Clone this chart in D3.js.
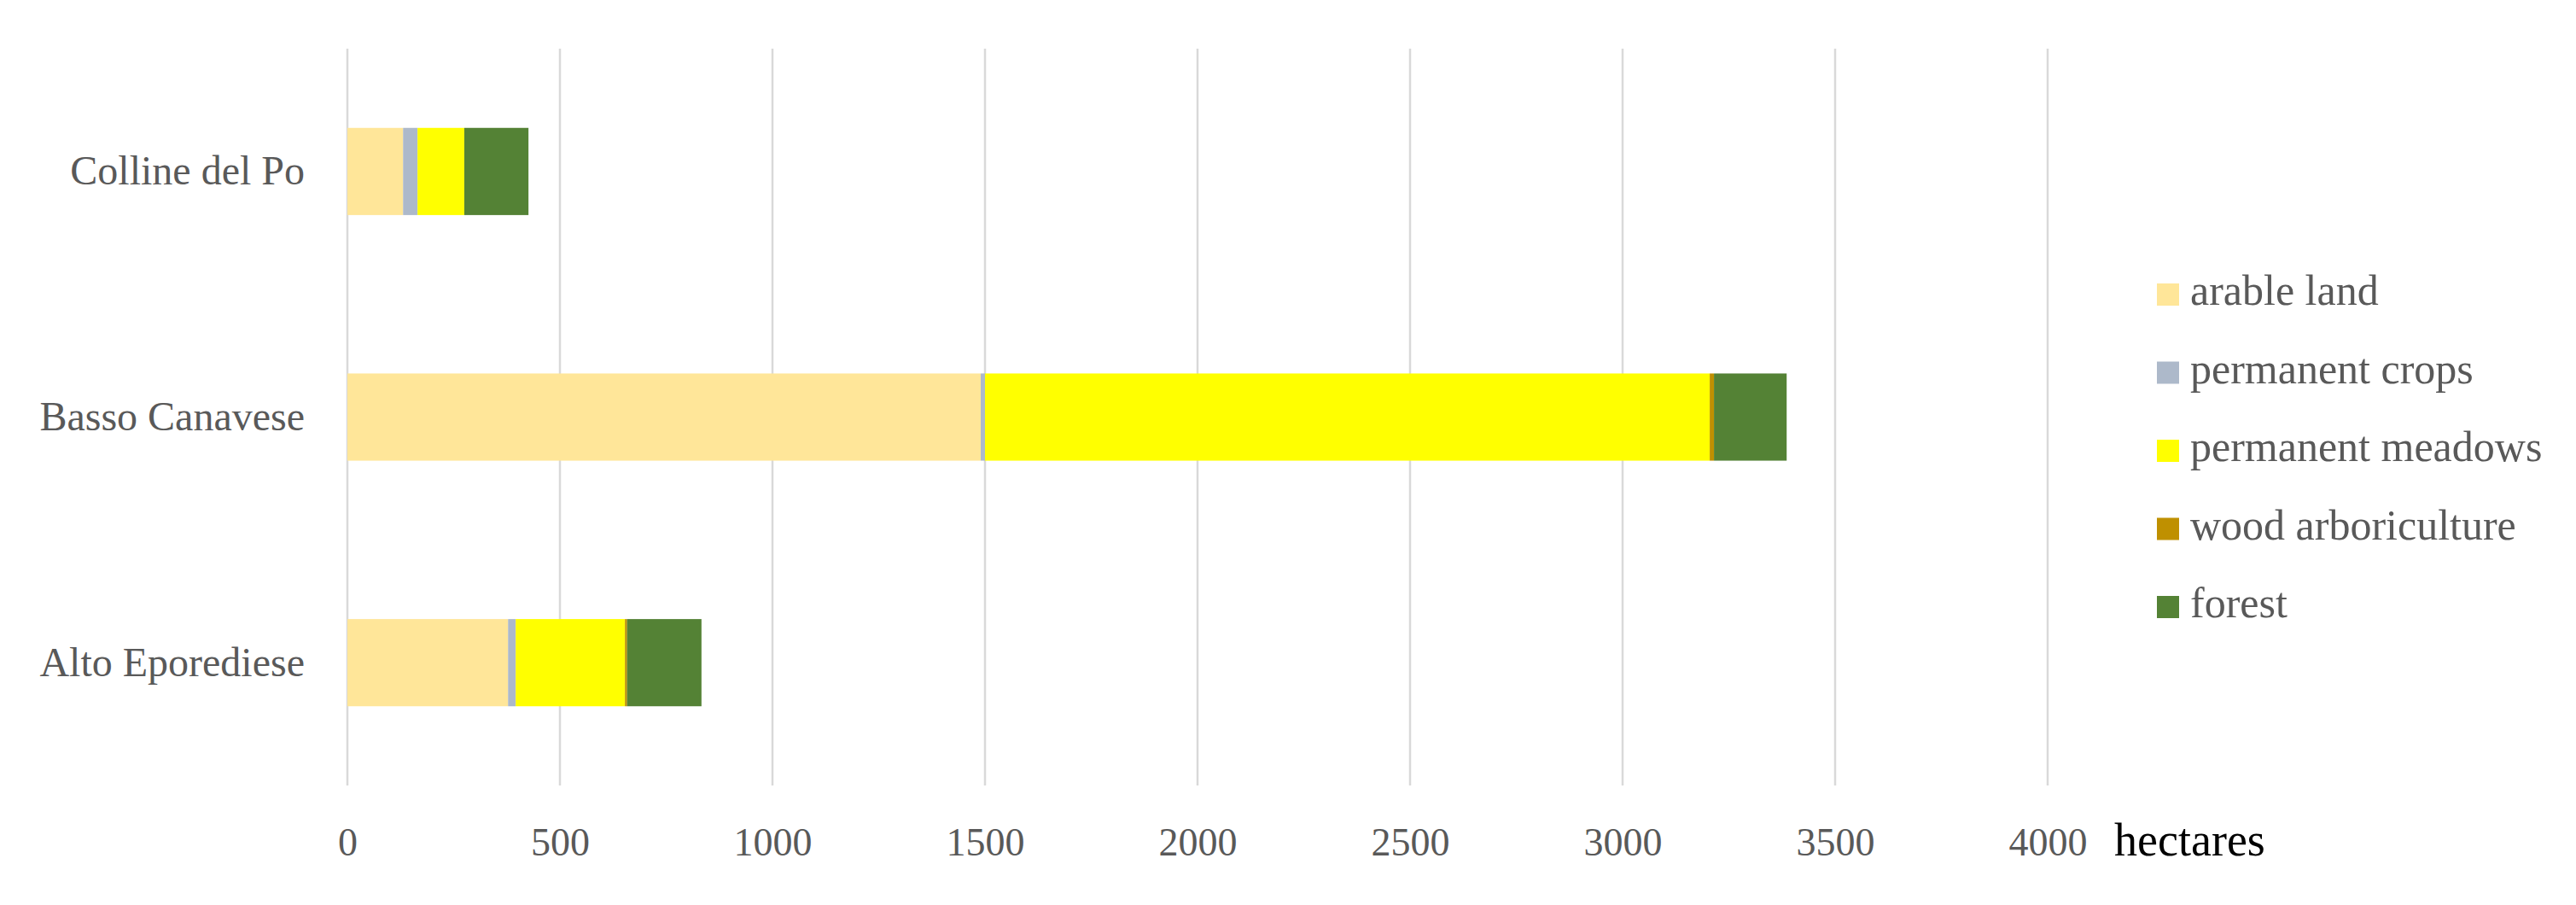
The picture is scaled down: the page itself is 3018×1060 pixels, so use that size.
<!DOCTYPE html>
<html>
<head>
<meta charset="utf-8">
<script src="https://cdn.jsdelivr.net/npm/d3@7"></script>
<style>
  html, body { margin: 0; padding: 0; background: #ffffff; }
  svg { display: block; }
</style>
</head>
<body>
<svg id="chart" width="3018" height="1060"></svg>
<script>
// ---- data ----
const categories = ["Colline del Po", "Basso Canavese", "Alto Eporediese"];
const seriesNames = ["arable land", "permanent crops", "permanent meadows", "wood arboriculture", "forest"];
const arableLand = [131, 1490, 378];
const permanentCrops = [34, 10, 18];
const permanentMeadows = [110, 1705, 257];
const woodArboriculture = [0, 10, 5];
const forest = [151, 171, 175];
const seriesColors = ["#FFE699", "#ADB9CA", "#FFFF00", "#BF9000", "#548235"];
const tickValues = [0, 500, 1000, 1500, 2000, 2500, 3000, 3500, 4000];
const axisTitle = "hectares";

// ---- build table ----
const seriesValues = [arableLand, permanentCrops, permanentMeadows, woodArboriculture, forest];
const rows = categories.map((c, i) => {
  const r = { category: c };
  seriesNames.forEach((s, j) => { r[s] = seriesValues[j][i]; });
  return r;
});

const svg = d3.select("#chart");
const x = d3.scaleLinear().domain([0, 4000]).range([407, 2399]);
const y = d3.scaleBand().domain(categories).range([57, 920]).paddingInner(0.645).paddingOuter(0.3225);
const color = d3.scaleOrdinal().domain(seriesNames).range(seriesColors);

// gridlines
svg.append("g").selectAll("line").data(tickValues).join("line")
  .attr("x1", d => x(d)).attr("x2", d => x(d))
  .attr("y1", 57).attr("y2", 920)
  .attr("stroke", "#D9D9D9").attr("stroke-width", 2.5);

// bars
const stack = d3.stack().keys(seriesNames)(rows);
svg.append("g").selectAll("g").data(stack).join("g")
  .attr("fill", d => color(d.key))
  .selectAll("rect").data(d => d).join("rect")
  .attr("x", d => x(d[0]))
  .attr("width", d => Math.max(0, x(d[1]) - x(d[0])))
  .attr("y", d => y(d.data.category))
  .attr("height", y.bandwidth());

// x axis labels
const xAxis = d3.axisBottom(x).tickValues(tickValues).tickSize(0).tickPadding(0).tickFormat(d3.format("d"));
const gx = svg.append("g").attr("transform", "translate(0,1002)").call(xAxis);
gx.select(".domain").remove();
gx.selectAll("text")
  .attr("dy", 0).attr("y", 0)
  .attr("font-family", "'Liberation Serif', serif")
  .attr("font-size", 46)
  .attr("fill", "#595959");

// axis title
svg.append("text")
  .attr("x", 2477).attr("y", 1002)
  .attr("font-family", "'Liberation Serif', serif")
  .attr("font-size", 54)
  .attr("fill", "#000000")
  .text(axisTitle);

// y axis labels
const yAxis = d3.axisLeft(y).tickSize(0).tickPadding(0);
const gy = svg.append("g").attr("transform", "translate(357,0)").call(yAxis);
gy.select(".domain").remove();
gy.selectAll("text")
  .attr("dy", "0.32em")
  .attr("x", 0)
  .attr("font-family", "'Liberation Serif', serif")
  .attr("font-size", 48)
  .attr("fill", "#595959");

// legend
const legend = svg.append("g");
const legendY = d3.scalePoint().domain(seriesNames).range([345, 711]);
const item = legend.selectAll("g").data(seriesNames).join("g")
  .attr("transform", d => `translate(2527,${legendY(d)})`);
item.append("rect")
  .attr("x", 0).attr("y", -13).attr("width", 26).attr("height", 26)
  .attr("fill", d => color(d));
item.append("text")
  .attr("x", 39).attr("y", 12)
  .attr("font-family", "'Liberation Serif', serif")
  .attr("font-size", 50)
  .attr("fill", "#595959")
  .text(d => d);
</script>
</body>
</html>
